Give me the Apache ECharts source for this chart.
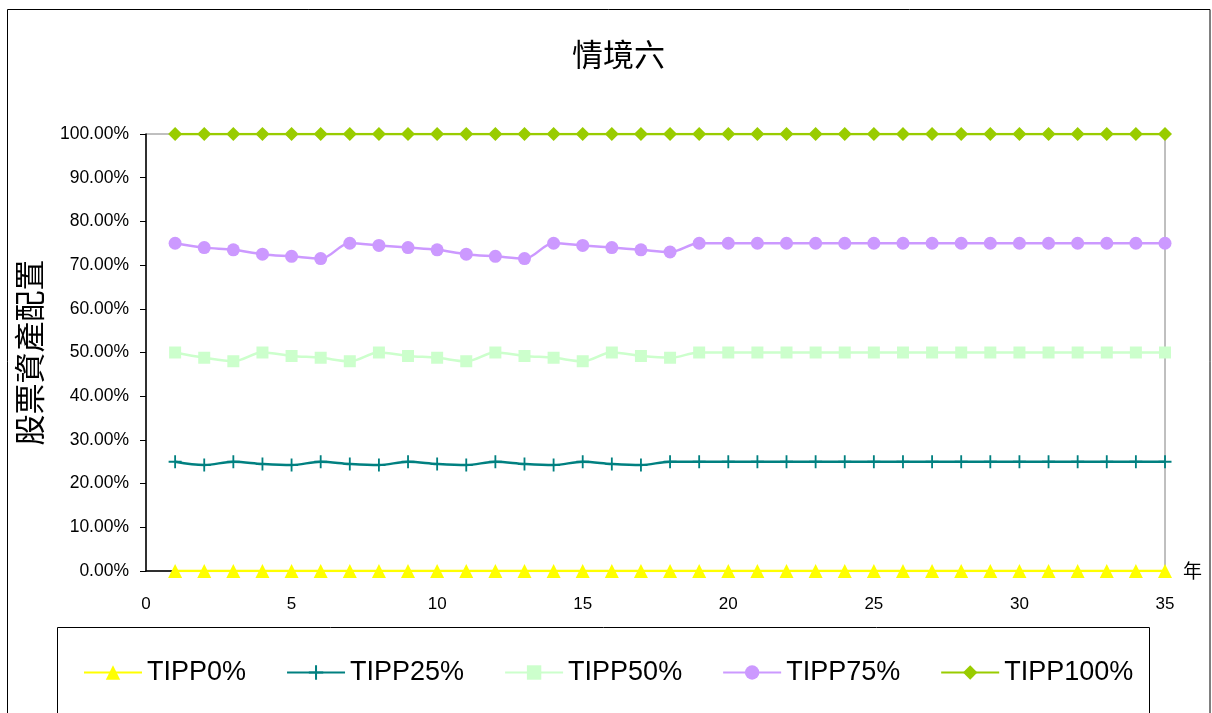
<!DOCTYPE html>
<html><head><meta charset="utf-8">
<script src="https://cdn.jsdelivr.net/npm/echarts@6/dist/echarts.min.js"></script>
<style>html,body{margin:0;padding:0;background:#fff}#c{width:1212px;height:713px}</style>
</head><body><div id="c"></div>
<script>
const years = Array.from({length:35},(_,i)=>i+1);
const tipp0 = [0,0,0,0,0,0,0,0,0,0,0,0,0,0,0,0,0,0,0,0,0,0,0,0,0,0,0,0,0,0,0,0,0,0,0];
const tipp25 = [25,24.25,25,24.5,24.25,25,24.5,24.25,25,24.5,24.25,25,24.5,24.25,25,24.5,24.25,25,25,25,25,25,25,25,25,25,25,25,25,25,25,25,25,25,25];
const tipp50 = [50,48.8,48,50,49.2,48.8,48,50,49.2,48.8,48,50,49.2,48.8,48,50,49.2,48.8,50,50,50,50,50,50,50,50,50,50,50,50,50,50,50,50,50];
const tipp75 = [75,74,73.5,72.5,72,71.5,75,74.5,74,73.5,72.5,72,71.5,75,74.5,74,73.5,73,75,75,75,75,75,75,75,75,75,75,75,75,75,75,75,75,75];
const tipp100 = [100,100,100,100,100,100,100,100,100,100,100,100,100,100,100,100,100,100,100,100,100,100,100,100,100,100,100,100,100,100,100,100,100,100,100];
const names = ['TIPP0%','TIPP25%','TIPP50%','TIPP75%','TIPP100%'];

const FONT = '"Liberation Sans", Arial, "Noto Sans CJK TC", sans-serif';
const CJK = '"Noto Sans CJK TC", sans-serif';
const plus = 'path://M4.3,0h1.4v4.3h4.3v1.4h-4.3v4.3h-1.4v-4.3h-4.3v-1.4h4.3z';
function pair(arr){return arr.map((v,i)=>[years[i],v]);}
function ser(name,data,color,symbol,size){
  return {name,type:'line',data:pair(data),smooth:0.35,symbol,symbolSize:size,
    lineStyle:{color,width:2.5},itemStyle:{color},emphasis:{disabled:true},z:3};
}
const chart = echarts.init(document.getElementById('c'));
chart.setOption({
  animation:false,
  backgroundColor:'#fff',
  textStyle:{fontFamily:FONT},
  title:{text:'情境六',left:567,top:34,textStyle:{fontFamily:CJK,fontSize:31,fontWeight:'normal',color:'#000'}},
  grid:{left:146,right:47,top:134,bottom:142,show:true,borderColor:'#808080',borderWidth:1,backgroundColor:'transparent'},
  xAxis:{type:'value',min:0,max:35,interval:5,name:'年',nameLocation:'end',nameGap:18,
    nameTextStyle:{fontFamily:CJK,fontSize:19,color:'#000',padding:[20,0,0,0]},
    axisLine:{lineStyle:{color:'#000',width:1.5}},axisTick:{show:false},splitLine:{show:false},
    axisLabel:{fontSize:17,color:'#000',margin:25}},
  yAxis:{type:'value',min:0,max:100,interval:10,name:'股票資產配置',nameLocation:'middle',nameRotate:90,nameGap:101,
    nameTextStyle:{fontFamily:CJK,fontSize:31,color:'#000'},
    axisLine:{show:true,lineStyle:{color:'#000',width:1.5}},axisTick:{show:true,length:6,lineStyle:{color:'#000'}},splitLine:{show:false},
    axisLabel:{fontSize:17.5,color:'#000',margin:17,formatter:v=>v.toFixed(2)+'%'}},
  legend:{data:names,left:78,top:654,itemWidth:58,itemHeight:18,itemGap:40,
    textStyle:{fontSize:27,color:'#000',fontFamily:FONT}},
  graphic:[
    {type:'rect',shape:{x:7.5,y:9.5,width:1202.5,height:800},style:{fill:'none',stroke:'#000',lineWidth:1},silent:true,z:-10},
    {type:'rect',shape:{x:57.5,y:627.5,width:1092,height:200},style:{fill:'none',stroke:'#000',lineWidth:1},silent:true,z:-10}
  ],
  series:[
    ser(names[0],tipp0,'#FFFF00','triangle',14),
    ser(names[1],tipp25,'#008080',plus,13),
    ser(names[2],tipp50,'#CCFFCC','rect',12),
    ser(names[3],tipp75,'#CC99FF','circle',13),
    ser(names[4],tipp100,'#99CC00','diamond',14)
  ]
});
</script></body></html>
